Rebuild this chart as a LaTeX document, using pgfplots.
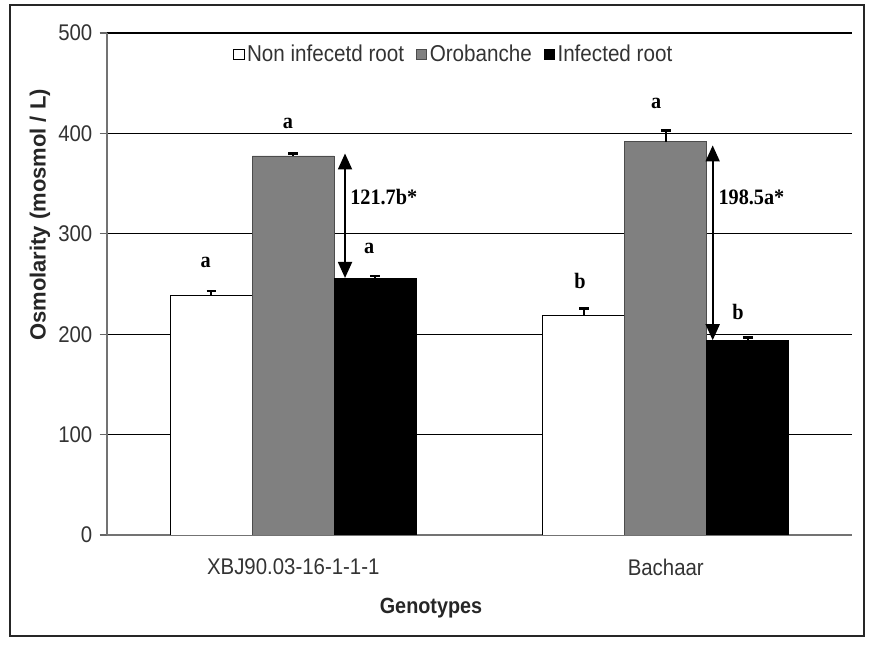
\documentclass[border=0pt]{standalone}
\usepackage{fontspec}
\setmainfont[FakeStretch=0.9]{Liberation Sans}
\newfontfamily\plainsans{Liberation Sans}
\newfontfamily\annot[FakeStretch=0.92]{Liberation Serif}
\usepackage{pgfplots}
\pgfplotsset{compat=1.18}
\usetikzlibrary{arrows.meta}
\definecolor{bargray}{RGB}{128,128,128}
\begin{document}
\begin{tikzpicture}[x=0.75pt,y=0.75pt]
\path[use as bounding box] (0,0) rectangle (871,646);
\draw[line width=1.6pt, black!85] (10,10) rectangle (864,641);
\begin{axis}[
  at={(80.25pt,83.25pt)}, anchor=south west, scale only axis,
  width=558.75pt, height=376.5pt,
  xmin=-0.5, xmax=1.5, ymin=0, ymax=500,
  axis lines*=left,
  axis line style={black!55, line width=1.1pt},
  ybar,
  ytick={0,100,...,500},
  ymajorgrids, grid style={black, line width=0.9pt},
  tick align=outside,
  major tick length=5.5pt,
  tick style={black!60, line width=1pt},
  xtick={0,1},
  xticklabels={XBJ90.03-16-1-1-1, Bachaar},
  x tick style={draw=none},
  extra x ticks={-0.5,0.5,1.5},
  extra x tick labels={},
  extra x tick style={grid=none, tick style={draw=black!60, line width=1pt}, major tick length=5.5pt},
  /pgf/number format/assume math mode=true,
  ticklabel style={font=\fontsize{17}{20}\selectfont, text=black!80},
  xticklabel style={yshift=-9pt},
  yticklabel style={xshift=-2pt},
  legend style={at={(0.466,0.985)}, anchor=north, draw=none, fill=none,
    legend columns=3, font=\fontsize{17.2}{20}\selectfont, text=black!80,
    /tikz/every even column/.append style={column sep=7pt},
    cells={anchor=west}, inner sep=1pt},
  legend image code/.code={\draw[#1, line width=0.6pt] (0pt,-3.8pt) rectangle (7.6pt,3.8pt);},
  error bars/y dir=plus, error bars/y explicit,
  error bars/error mark=|,
  error bars/error bar style={black, line width=1.3pt},
  error bars/error mark options={black, line width=2.2pt, mark size=3.6pt},
]
\addplot[bar width=0.22, bar shift=-0.22, fill=white, draw=black, line width=0.7pt]
  coordinates {(0,239) +- (0,4) (1,219) +- (0,7)};
\addlegendentry{Non infecetd root}
\addplot[bar width=0.22, bar shift=0, fill=bargray, draw=black!70, line width=0.7pt]
  coordinates {(0,377.5) +- (0,2.5) (1,391.5) +- (0,11)};
\addlegendentry{Orobanche}
\addplot[bar width=0.22, bar shift=0.22, fill=black, draw=black, line width=0.7pt]
  coordinates {(0,255.5) +- (0,2.5) (1,193.5) +- (0,3)};
\addlegendentry{Infected root}

\draw[{Triangle[width=10.5pt,length=12pt]}-{Triangle[width=10.5pt,length=12pt]}, line width=1.3pt]
  (axis cs:0.139,380) -- (axis cs:0.139,256);
\draw[{Triangle[width=10.5pt,length=12pt]}-{Triangle[width=10.5pt,length=12pt]}, line width=1.3pt]
  (axis cs:1.126,388) -- (axis cs:1.126,194);
\begin{scope}[every node/.style={font=\annot\bfseries\fontsize{16.5}{19}\selectfont, inner sep=0pt}]
\node at (axis cs:0.243,337) {121.7b*};
\node at (axis cs:1.230,336) {198.5a*};
\node at (axis cs:-0.235,271) {a};
\node at (axis cs:-0.014,410) {a};
\node at (axis cs:0.204,285) {a};
\node at (axis cs:0.77,253) {b};
\node at (axis cs:0.974,430) {a};
\node at (axis cs:1.194,222) {b};
\end{scope}
\end{axis}
\node[rotate=90, font=\plainsans\bfseries\fontsize{16.5}{19}\selectfont, text=black!85] at (40,431) {Osmolarity (mosmol / L)};
\node[font=\bfseries\fontsize{16.5}{19}\selectfont, text=black!85] at (431,38) {Genotypes};
\end{tikzpicture}
\end{document}
